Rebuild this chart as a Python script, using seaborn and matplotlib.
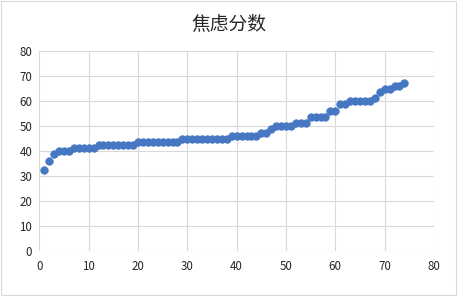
import numpy as np
import pandas as pd
import seaborn as sns
import matplotlib.pyplot as plt

# 焦虑分数（已排序）
score_levels = [32.5, 36.25, 38.75, 40, 41.25, 42.5, 43.75, 45, 46.25, 47.5, 48.75,
                50, 51.25, 53.75, 56.25, 58.75, 60, 61.25, 63.75, 65, 66.25, 67.5]
level_counts = [1, 1, 1, 3, 5, 8, 9, 10, 6, 2, 1,
                4, 3, 4, 2, 2, 5, 1, 1, 2, 2, 1]
scores = np.repeat(score_levels, level_counts)
index = np.arange(1, len(scores) + 1)

data = pd.DataFrame({'序号': index, '焦虑分数': scores})

sns.set_style('white')
plt.rcParams['font.family'] = ['Noto Sans CJK SC', 'DejaVu Sans']

fig = plt.figure(figsize=(4.58, 2.96), dpi=100)
ax = fig.add_axes([39.3 / 458, 1 - 251.3 / 296, (434 - 39.3) / 458, 200 / 296])

sns.scatterplot(data=data, x='序号', y='焦虑分数', ax=ax, color='#4677c2',
                s=32, edgecolor='#4677c2', linewidth=0.3, zorder=3)

ax.set_xlim(0, 80)
ax.set_ylim(0, 80)
ax.set_xticks(range(0, 81, 10))
ax.set_yticks(range(0, 81, 10))
ax.grid(True, color='#d9d9d9', linewidth=0.8)
for sp in ax.spines.values():
    sp.set_visible(False)
ax.tick_params(axis='both', length=0, labelsize=8.3, labelcolor='#262626')
ax.tick_params(axis='x', pad=6)
ax.tick_params(axis='y', pad=5)
ax.set_xlabel('')
ax.set_ylabel('')

fig.text(0.5, 1 - 24 / 296, '焦虑分数', ha='center', va='center',
         fontsize=13.5, color='#262626')

# 外框
fig.patches.append(plt.Rectangle((0.002, 0.003), 0.994, 0.994, transform=fig.transFigure,
                                 fill=False, edgecolor='#d9d9d9', linewidth=0.8))

plt.savefig('out.png', dpi=100)
plt.close()
